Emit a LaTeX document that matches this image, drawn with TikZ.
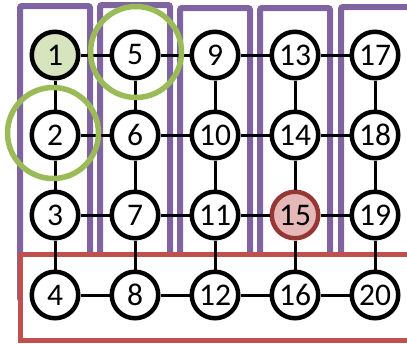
\documentclass[tikz,border=0pt]{standalone}
\usepackage{fontspec}
\setmainfont{Carlito}
\usetikzlibrary{positioning}
\definecolor{GridPurple}{HTML}{8064A2}
\definecolor{GridRed}{HTML}{C0504D}
\definecolor{GridGreen}{HTML}{9BBB59}
\definecolor{GreenFill}{HTML}{D7E4BD}
\definecolor{RedFill}{HTML}{E6B9B8}
\definecolor{RedDark}{HTML}{953735}

\begin{document}
\begin{tikzpicture}[
    x=1pt,y=-1pt,
    node distance=80pt,on grid,
    vert/.style={draw=black,line width=4.5pt,circle,fill=white,minimum size=46.5pt,inner sep=0pt,font=\fontsize{31.5}{31.5}\selectfont},
    startvert/.style={vert,fill=GreenFill},
    hitvert/.style={vert,fill=RedFill,draw=RedDark},
    edge/.style={line width=3pt,draw=black},
    colbox/.style={draw=GridPurple,line width=6pt,rounded corners=2pt},
    rowbox/.style={draw=GridRed,line width=5pt,fill=white},
    ring/.style={draw=GridGreen,line width=5.5pt,circle,minimum size=91pt,inner sep=0pt}
  ]
    \useasboundingbox (0,0) rectangle (407,343);
    % columns and bottom row
    \draw[colbox] (20,6) rectangle (90,300);
    \draw[colbox] (100,5) rectangle (170,300);
    \draw[colbox] (180,8) rectangle (250,300);
    \draw[colbox] (260,8) rectangle (330,300);
    \draw[colbox] (341,7) rectangle (411,300);
    \draw[rowbox] (20,254.5) rectangle (420,340.5);
    % vertices
    \node[startvert] (n1) at (55,55) {1};
    \node[vert,below=of n1] (n2) {2};
    \node[vert,below=of n2] (n3) {3};
    \node[vert,below=of n3] (n4) {4};
    \node[vert,right=of n1] (n5) {5};
    \node[vert,below=of n5] (n6) {6};
    \node[vert,below=of n6] (n7) {7};
    \node[vert,below=of n7] (n8) {8};
    \node[vert,right=of n5] (n9) {9};
    \node[vert,below=of n9] (n10) {10};
    \node[vert,below=of n10] (n11) {11};
    \node[vert,below=of n11] (n12) {12};
    \node[vert,right=of n9] (n13) {13};
    \node[vert,below=of n13] (n14) {14};
    \node[hitvert,below=of n14] (n15) {15};
    \node[vert,below=of n15] (n16) {16};
    \node[vert,right=of n13] (n17) {17};
    \node[vert,below=of n17] (n18) {18};
    \node[vert,below=of n18] (n19) {19};
    \node[vert,below=of n19] (n20) {20};
    % edges
    \draw[edge] (n1) -- (n5) -- (n9) -- (n13) -- (n17);
    \draw[edge] (n2) -- (n6) -- (n10) -- (n14) -- (n18);
    \draw[edge] (n3) -- (n7) -- (n11) -- (n15) -- (n19);
    \draw[edge] (n4) -- (n8) -- (n12) -- (n16) -- (n20);
    \draw[edge] (n1) -- (n2) -- (n3) -- (n4);
    \draw[edge] (n5) -- (n6) -- (n7) -- (n8);
    \draw[edge] (n9) -- (n10) -- (n11) -- (n12);
    \draw[edge] (n13) -- (n14) -- (n15) -- (n16);
    \draw[edge] (n17) -- (n18) -- (n19) -- (n20);
    % rings
    \node[ring] (ring5) at (136,52) {};
    \node[ring] (ring2) at (53,133) {};
  \end{tikzpicture}
\end{document}
